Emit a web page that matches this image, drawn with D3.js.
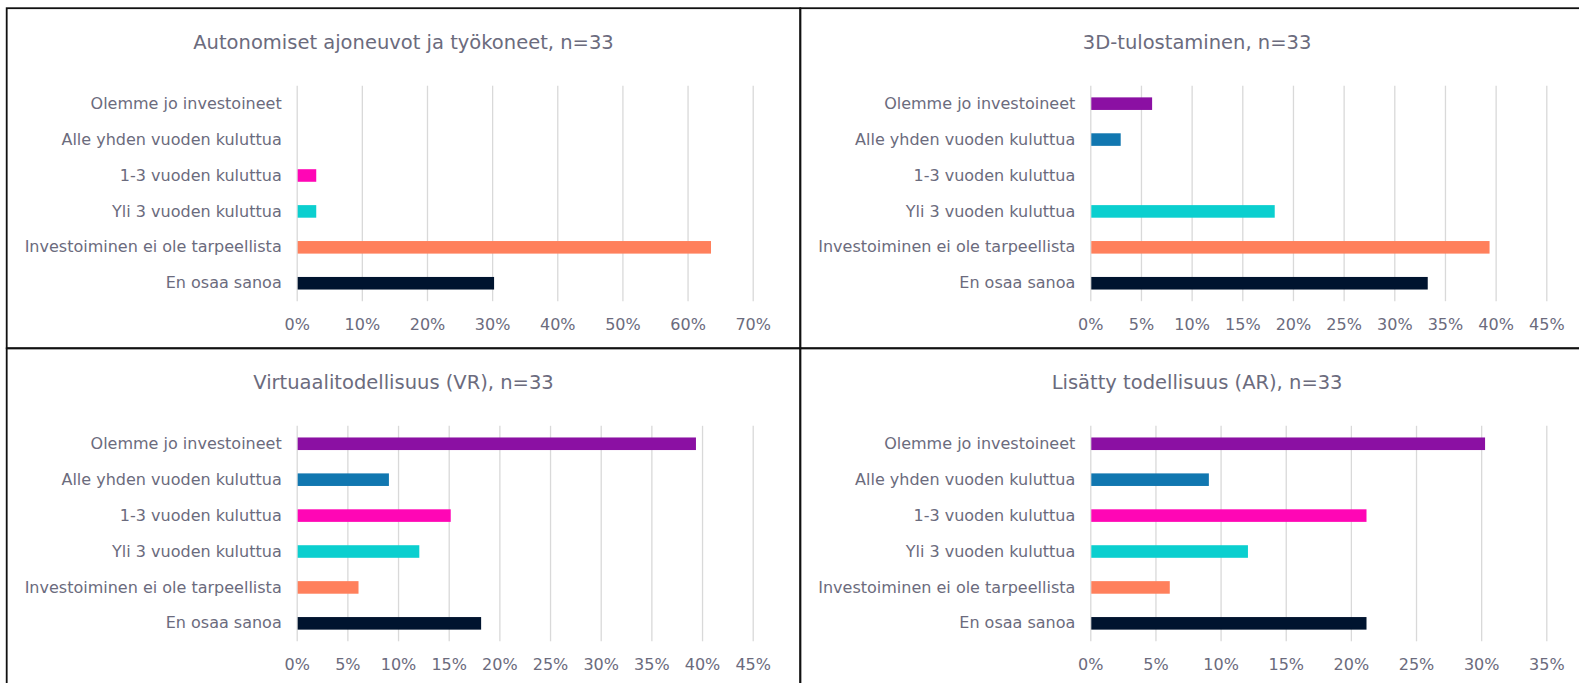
<!DOCTYPE html>
<html>
<head>
<meta charset="utf-8">
<script src="https://cdn.jsdelivr.net/npm/d3@7/dist/d3.min.js"></script>
<style>
  body { margin: 0; background: #fff; }
  svg text { font-family: Verdana, "DejaVu Sans", sans-serif; fill: #6b6b7d; }
</style>
</head>
<body>
<div id="chart"></div>
<script>
// answer categories, top to bottom
var categories = [
    "Olemme jo investoineet",
    "Alle yhden vuoden kuluttua",
    "1-3 vuoden kuluttua",
    "Yli 3 vuoden kuluttua",
    "Investoiminen ei ole tarpeellista",
    "En osaa sanoa"
];

var titles = [
    "Autonomiset ajoneuvot ja työkoneet, n=33",
    "3D-tulostaminen, n=33",
    "Virtuaalitodellisuus (VR), n=33",
    "Lisätty todellisuus (AR), n=33"
];

// shares in percent, same order as categories
var autonomiset = [0, 0, 3.0, 3.0, 63.6, 30.3];
var tulostaminen = [6.1, 3.0, 0, 18.2, 39.4, 33.3];
var virtuaali = [39.4, 9.1, 15.2, 12.1, 6.1, 18.2];
var lisatty = [30.3, 9.1, 21.2, 12.1, 6.1, 21.2];

// x axis tick labels of each chart
var ticks1 = [0, 10, 20, 30, 40, 50, 60, 70];
var ticks2 = [0, 5, 10, 15, 20, 25, 30, 35, 40, 45];
var ticks3 = [0, 5, 10, 15, 20, 25, 30, 35, 40, 45];
var ticks4 = [0, 5, 10, 15, 20, 25, 30, 35];

var colors = ["#8b10a3", "#1177b0", "#ff06b5", "#0bcfcf", "#ff805c", "#00142f"];

var seriesList = [autonomiset, tulostaminen, virtuaali, lisatty];
var tickList = [ticks1, ticks2, ticks3, ticks4];

var W = 1579, H = 683;
var panelW = 793.6, panelH = 340.1;
var left0 = 6.7, top0 = 8.2;

var svg = d3.select("#chart")
    .append("svg")
    .attr("width", W)
    .attr("height", H);

function drawPanel(i) {
    var px = left0 + (i % 2) * panelW;
    var py = top0 + Math.floor(i / 2) * panelH;
    var values = seriesList[i];
    var ticks = tickList[i];

    var g = svg.append("g")
        .attr("transform", "translate(" + px + "," + py + ")");

    var plotLeft = 290, plotWidth = 456;
    var plotTop = 77.5, plotHeight = 215.5;

    g.append("text")
        .attr("x", panelW / 2)
        .attr("y", 34.2)
        .attr("dy", "0.35em")
        .attr("text-anchor", "middle")
        .style("font-size", "19.5px")
        .text(titles[i]);

    var x = d3.scaleLinear()
        .domain([0, d3.max(ticks)])
        .range([0, plotWidth]);

    var y = d3.scaleBand()
        .domain(categories)
        .range([0, plotHeight])
        .paddingInner(0.65)
        .paddingOuter(0.325);

    var plot = g.append("g")
        .attr("transform", "translate(" + plotLeft + "," + plotTop + ")");

    // gridlines + percent labels
    var xAxis = plot.append("g")
        .attr("transform", "translate(0," + plotHeight + ")")
        .call(d3.axisBottom(x)
            .tickValues(ticks)
            .tickSize(-plotHeight)
            .tickPadding(17.5)
            .tickFormat(function (d) { return d + "%"; }));
    xAxis.select(".domain").remove();
    xAxis.selectAll("line")
        .attr("stroke", "#d9d9d9")
        .attr("stroke-width", 1.3);
    xAxis.selectAll("text")
        .attr("fill", null)
        .style("font-size", "16px");

    var yAxis = plot.append("g")
        .call(d3.axisLeft(y).tickSize(0).tickPadding(15));
    yAxis.select(".domain").remove();
    yAxis.selectAll("text")
        .attr("fill", null)
        .style("font-size", "16px");

    plot.selectAll(".bar")
        .data(values)
        .enter()
        .append("rect")
        .attr("class", "bar")
        .attr("x", x(0) + 1)
        .attr("y", function (d, j) { return y(categories[j]); })
        .attr("width", function (d) { return d > 0 ? x(d) - 1 : 0; })
        .attr("height", y.bandwidth())
        .attr("fill", function (d, j) { return colors[j]; });
}

for (var i = 0; i < 4; i++) drawPanel(i);

// panel frames
var frame = svg.append("g")
    .attr("fill", "none")
    .attr("stroke", "#111")
    .attr("stroke-width", 1.8);
for (var k = 0; k < 4; k++) {
    frame.append("rect")
        .attr("x", left0 + (k % 2) * panelW)
        .attr("y", top0 + Math.floor(k / 2) * panelH)
        .attr("width", panelW)
        .attr("height", panelH);
}
</script>
</body>
</html>
